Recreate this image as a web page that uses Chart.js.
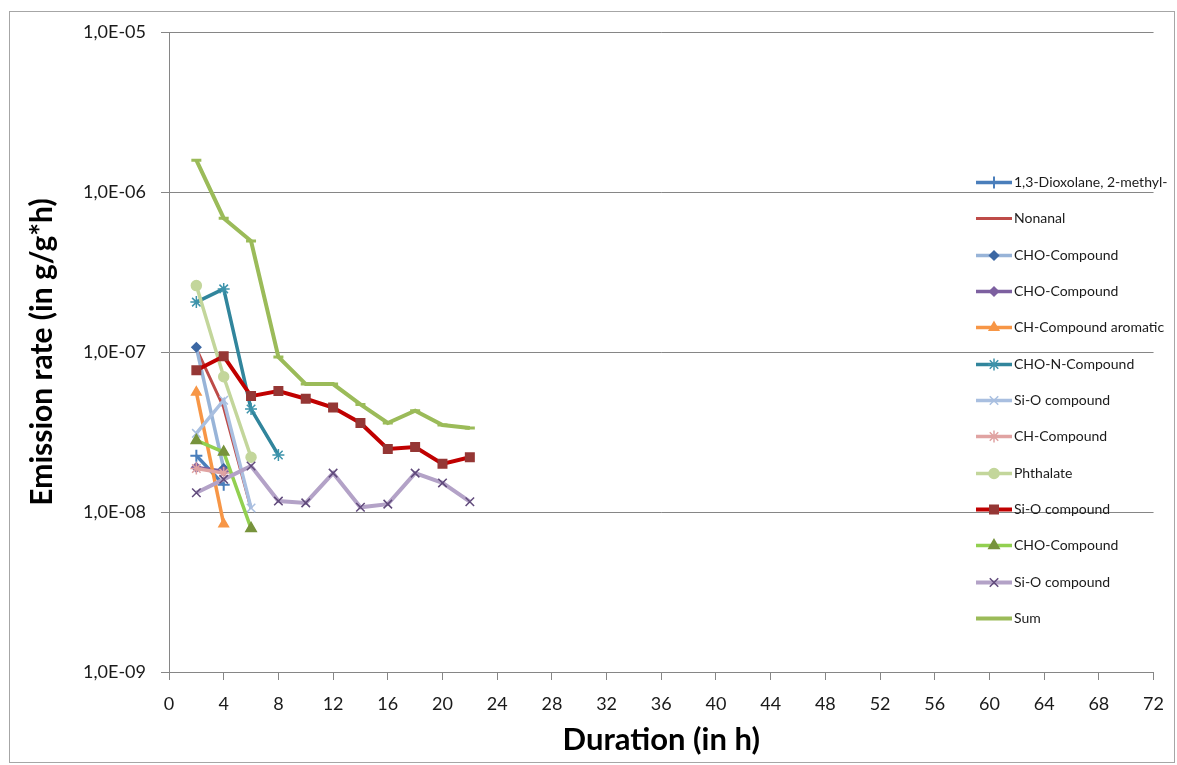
<!DOCTYPE html>
<html>
<head>
<meta charset="utf-8">
<script src="https://cdn.jsdelivr.net/npm/chart.js@4/dist/chart.umd.min.js"></script>
<style>
  html, body { margin: 0; padding: 0; background: #fff; }
  #wrap { width: 1177px; height: 765px; position: relative; }
</style>
</head>
<body>
<div id="wrap"><canvas id="emissionChart"></canvas></div>
<script>
// sampling times (h); every series starts at 2 h
const hours = [2, 4, 6, 8, 10, 12, 14, 16, 18, 20, 22];

// emission rates in g/g*h
const dioxolane   = [2.25e-8, 1.48e-8];
const nonanal     = [1.05e-7, 4.5e-8, 1.05e-8];
const choBlue     = [1.07e-7, 1.87e-8];
const choPurple   = [1.9e-8, 1.8e-8];
const chAromatic  = [5.6e-8, 8.4e-9];
const chon        = [2.05e-7, 2.48e-7, 4.4e-8, 2.27e-8];
const siOLight    = [3.1e-8, 5.0e-8, 1.06e-8];
const chPink      = [1.87e-8, 1.75e-8];
const phthalate   = [2.6e-7, 7.0e-8, 2.2e-8];
const siORed      = [7.7e-8, 9.4e-8, 5.3e-8, 5.7e-8, 5.1e-8, 4.5e-8, 3.6e-8, 2.48e-8, 2.55e-8, 2.0e-8, 2.2e-8];
const choGreen    = [2.8e-8, 2.37e-8, 7.9e-9];
const siOLavender = [1.32e-8, 1.6e-8, 1.94e-8, 1.17e-8, 1.14e-8, 1.75e-8, 1.07e-8, 1.12e-8, 1.75e-8, 1.52e-8, 1.16e-8];
const sum         = [1.58e-6, 6.86e-7, 4.94e-7, 9.3e-8, 6.3e-8, 6.3e-8, 4.7e-8, 3.6e-8, 4.3e-8, 3.5e-8, 3.35e-8];

const yTickValues = [1e-9, 1e-8, 1e-7, 1e-6, 1e-5];
const yTickLabels = ['1,0E-09', '1,0E-08', '1,0E-07', '1,0E-06', '1,0E-05'];

function pts(values) {
    return values.map((v, i) => ({ x: hours[i], y: v }));
}

function series(label, values, line, marker, style, extra) {
    return Object.assign({
        label: label,
        data: pts(values),
        borderColor: line,
        backgroundColor: line,
        borderWidth: 3.5,
        pointStyle: style,
        pointRadius: style ? 4.5 : 0,
        pointBackgroundColor: marker,
        pointBorderColor: marker,
        pointBorderWidth: 1.5,
        fill: false,
        tension: 0
    }, extra || {});
}

const datasets = [
    series('1,3-Dioxolane, 2-methyl-', dioxolane, '#4a7ebb', '#4a7ebb', 'cross', { pointRadius: 6, pointBorderWidth: 2 }),
    series('Nonanal', nonanal, '#be4b48', '#be4b48', false, { borderWidth: 3 }),
    series('CHO-Compound', choBlue, '#98b4d8', '#3c67a3', 'rectRot'),
    series('CHO-Compound', choPurple, '#7d60a0', '#7d60a0', 'rectRot'),
    series('CH-Compound aromatic', chAromatic, '#f79646', '#f79646', 'triangle', { pointRadius: 5.5 }),
    series('CHO-N-Compound', chon, '#31859c', '#3d93ab', 'star', { pointRadius: 6, pointBorderWidth: 1.5 }),
    series('Si-O compound', siOLight, '#a9bfe0', '#a9bfe0', 'crossRot', { pointRadius: 6 }),
    series('CH-Compound', chPink, '#e0a3a2', '#e0a3a2', 'star', { pointRadius: 6 }),
    series('Phthalate', phthalate, '#c3d69b', '#c3d69b', 'circle', { pointRadius: 5 }),
    series('Si-O compound', siORed, '#c00000', '#953735', 'rect', { borderWidth: 4, pointRadius: 6 }),
    series('CHO-Compound', choGreen, '#92d050', '#77933c', 'triangle', { pointRadius: 6 }),
    series('Si-O compound', siOLavender, '#b3a2c7', '#604a7b', 'crossRot', { borderWidth: 4, pointRadius: 6 }),
    series('Sum', sum, '#9bbb59', '#9bbb59', 'line', { borderWidth: 4, pointRadius: 5, pointBorderWidth: 3 })
];
// first series at the bottom, like the original
datasets.forEach((d, i) => { d.order = datasets.length - i; });

const frameAndLegend = {
    id: 'frameAndLegend',
    beforeDraw(chart) {
        const ctx = chart.ctx;
        ctx.save();
        ctx.strokeStyle = '#a6a6a6';
        ctx.lineWidth = 1;
        ctx.strokeRect(9.5, 11.5, 1165, 751);
        ctx.restore();
    },
    afterDraw(chart) {
        const ctx = chart.ctx;
        ctx.save();
        ctx.font = '14px Lato';
        ctx.textBaseline = 'middle';
        chart.data.datasets.forEach((ds, i) => {
            const y = Math.round(182 + i * 36.33) + 0.5;
            ctx.strokeStyle = ds.borderColor;
            ctx.lineWidth = ds.borderWidth;
            ctx.beginPath();
            ctx.moveTo(976, y);
            ctx.lineTo(1012, y);
            ctx.stroke();
            if (ds.pointStyle) {
                ctx.fillStyle = ds.pointBackgroundColor;
                ctx.strokeStyle = ds.pointBorderColor;
                ctx.lineWidth = ds.pointBorderWidth;
                Chart.helpers.drawPoint(ctx, {
                    pointStyle: ds.pointStyle,
                    radius: ds.pointRadius,
                    borderWidth: ds.pointBorderWidth,
                    rotation: 0
                }, 994, y);
            }
            ctx.fillStyle = '#1a1a1a';
            ctx.fillText(ds.label, 1014, y);
        });
        ctx.restore();
    }
};

const ctx = document.getElementById('emissionChart').getContext('2d');
const emissionChart = new Chart(ctx, {
    type: 'line',
    data: { datasets: datasets },
    options: {
        responsive: true,
        maintainAspectRatio: false,
        animation: false,
        layout: { padding: { top: 32, right: 19, bottom: 0, left: 0 } },
        plugins: {
            legend: { display: false },
            tooltip: { enabled: false }
        },
        scales: {
            x: {
                type: 'linear',
                min: 0,
                max: 72,
                afterFit: s => { s.height = 93; },
                ticks: {
                    stepSize: 4,
                    padding: 13,
                    color: '#1a1a1a',
                    font: { family: 'Lato', size: 18 }
                },
                grid: {
                    drawOnChartArea: false,
                    drawTicks: true,
                    tickLength: 8,
                    color: '#868686'
                },
                border: { color: '#868686' },
                title: {
                    display: true,
                    text: 'Duration (in h)',
                    color: '#000',
                    font: { family: 'Lato', size: 31, weight: 'bold' },
                    padding: { top: 0, bottom: 6 }
                }
            },
            y: {
                type: 'logarithmic',
                min: 1e-9,
                max: 1e-5,
                afterFit: s => { s.width = 169; },
                afterBuildTicks: s => { s.ticks = yTickValues.map(v => ({ value: v })); },
                ticks: {
                    padding: 15,
                    color: '#1a1a1a',
                    font: { family: 'Lato', size: 18 },
                    callback: v => yTickLabels[yTickValues.findIndex(t => Math.abs(Math.log10(t) - Math.log10(v)) < 0.01)]
                },
                grid: {
                    color: '#868686',
                    tickLength: 8
                },
                border: { color: '#868686' },
                title: {
                    display: true,
                    text: 'Emission rate (in g/g*h)',
                    color: '#000',
                    font: { family: 'Lato', size: 30, weight: 'bold' },
                    padding: { top: 24, bottom: 0 }
                }
            }
        }
    },
    plugins: [frameAndLegend]
});
</script>
</body>
</html>
